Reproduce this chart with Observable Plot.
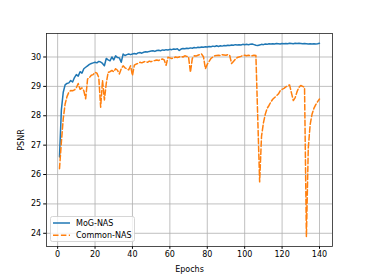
<!DOCTYPE html>
<html>
<head>
<meta charset="utf-8">
<script src="https://cdn.jsdelivr.net/npm/d3@7"></script>
<script src="https://cdn.jsdelivr.net/npm/@observablehq/plot@0.6"></script>
<style>
  html, body { margin: 0; padding: 0; background: #fff; }
  #chart { width: 369px; height: 277px; }
</style>
</head>
<body>
<div id="chart"></div>
<script>
const seriesNames = ["MoG-NAS", "Common-NAS"];
const seriesColors = ["#1f77b4", "#ff7f0e"];
const xTicks = [0, 20, 40, 60, 80, 100, 120, 140];
const yTicks = [24, 25, 26, 27, 28, 29, 30];

const mogNas = [
  26.6, 28.2, 28.8, 29.05, 29.1, 29.12, 29.2, 29.15, 29.3, 29.4,
  29.35, 29.5, 29.45, 29.6, 29.65, 29.7, 29.75, 29.78, 29.8, 29.82,
  29.8, 29.85, 29.83, 29.78, 29.7, 29.95, 29.9, 29.87, 30.0, 29.9,
  30.04, 29.98, 29.97, 29.82, 30.1, 30.05, 30.08, 30.1, 30.08, 30.1,
  30.12, 30.1, 30.14, 30.15, 30.13, 30.16, 30.18, 30.17, 30.19, 30.2,
  30.21, 30.19, 30.22, 30.23, 30.21, 30.24, 30.23, 30.25, 30.24, 30.26,
  30.25, 30.27, 30.26, 30.28, 30.22, 30.27, 30.29, 30.28, 30.3, 30.29,
  30.31, 30.3, 30.32, 30.31, 30.33, 30.32, 30.34, 30.33, 30.35, 30.34,
  30.36, 30.35, 30.37, 30.36, 30.38, 30.36, 30.38, 30.37, 30.39, 30.38,
  30.4, 30.39, 30.41, 30.4, 30.42, 30.41, 30.42, 30.41, 30.43, 30.42,
  30.43, 30.42, 30.43, 30.44, 30.42, 30.4, 30.39, 30.41, 30.43, 30.42,
  30.44, 30.43, 30.45, 30.44, 30.45, 30.44, 30.46, 30.45, 30.44, 30.46,
  30.45, 30.46, 30.45, 30.47, 30.46, 30.45, 30.47, 30.46, 30.47, 30.46,
  30.45, 30.46, 30.45, 30.44, 30.45, 30.44, 30.45, 30.44, 30.45, 30.47
];

const commonNas = [
  26.2, 27.1, 27.9, 28.4, 28.65, 28.8, 28.86, 28.85, 28.88, 28.95,
  29.1, 28.9, 28.95, 28.85, 28.58, 29.25, 29.3, 29.38, 29.4, 29.48,
  29.45, 29.3, 28.29, 29.2, 28.54, 29.1, 29.48, 29.5, 29.54, 29.5,
  29.6, 29.55, 29.42, 29.6, 29.7, 29.63, 29.6, 29.56, 29.7, 29.37,
  29.72, 29.76, 29.78, 29.82, 29.8, 29.83, 29.85, 29.82, 29.86, 29.84,
  29.87, 29.88, 29.9, 29.88, 29.92, 29.93, 29.9, 29.72, 29.99, 29.97,
  29.95, 29.96, 30.0, 29.98, 30.0, 30.02, 30.0, 30.04, 30.02, 30.0,
  29.48, 29.95, 30.04, 30.03, 30.06, 30.08, 30.1, 30.0, 29.6, 29.75,
  29.85, 29.95, 30.0, 30.04, 30.05, 30.06, 30.05, 30.08, 30.07, 30.06,
  30.08, 30.05, 29.78, 29.85, 29.92, 29.98, 30.0, 30.02, 30.05, 30.06,
  30.04, 30.06, 30.05, 30.04, 30.06, 30.05, 27.9, 25.75, 27.3, 27.75,
  28.05, 28.25, 28.35, 28.47, 28.56, 28.62, 28.68, 28.74, 28.85, 28.9,
  28.93, 28.98, 29.02, 29.05, 28.78, 28.52, 28.62, 28.82, 28.97, 29.03,
  29.0, 28.97, 23.88, 26.9, 27.7, 28.05, 28.25, 28.38, 28.48, 28.57
];

const epochs = mogNas.map((_, i) => i + 1);

const rows = [];
epochs.forEach((e, i) => {
  rows.push({epoch: e, psnr: mogNas[i], series: seriesNames[0]});
  rows.push({epoch: e, psnr: commonNas[i], series: seriesNames[1]});
});

function padded(ext) {
  const p = (ext[1] - ext[0]) * 0.05;
  return [ext[0] - p, ext[1] + p];
}
const xDomain = padded(d3.extent(epochs));
const yDomain = padded(d3.extent([...mogNas, ...commonNas]));

const font = "DejaVu Sans, sans-serif";
const dash = "5.5,2.4";

const plot = Plot.plot({
  width: 369,
  height: 277,
  marginLeft: 46,
  marginRight: 37,
  marginTop: 33,
  marginBottom: 31,
  style: {fontFamily: font, fontSize: "8px", background: "#fff", color: "#000"},
  x: {domain: xDomain},
  y: {domain: yDomain},
  marks: [
    Plot.gridX(xTicks, {stroke: "#b0b0b0", strokeOpacity: 1, strokeWidth: 0.8}),
    Plot.gridY(yTicks, {stroke: "#b0b0b0", strokeOpacity: 1, strokeWidth: 0.8}),
    Plot.axisX(xTicks, {tickSize: 2.8, tickPadding: 2.5, fontSize: 8, label: "Epochs", labelAnchor: "center", labelArrow: "none", labelOffset: 25}),
    Plot.axisY(yTicks, {tickSize: 2.8, tickPadding: 2.5, fontSize: 8, label: "PSNR", labelAnchor: "center", labelArrow: "none", labelOffset: 28}),
    Plot.line(rows.filter(d => d.series === seriesNames[0]), {x: "epoch", y: "psnr", stroke: seriesColors[0], strokeWidth: 1.5}),
    Plot.line(rows.filter(d => d.series === seriesNames[1]), {x: "epoch", y: "psnr", stroke: seriesColors[1], strokeWidth: 1.5, strokeDasharray: dash}),
    Plot.frame({stroke: "#222", strokeWidth: 0.8})
  ]
});

document.getElementById("chart").appendChild(plot);

// Legend (lower-left inside the plot area)
const svg = d3.select(plot);
const g = svg.append("g").attr("font-family", font).attr("font-size", 8).attr("text-anchor", "start");
g.append("rect").attr("x", 50.5).attr("y", 216.5).attr("width", 84).attr("height", 25)
  .attr("rx", 2).attr("fill", "#fff").attr("fill-opacity", 0.8).attr("stroke", "#cccccc").attr("stroke-width", 0.8);
seriesNames.forEach((name, i) => {
  const cy = 223 + i * 12.3;
  g.append("line").attr("x1", 53).attr("x2", 70).attr("y1", cy).attr("y2", cy)
    .attr("stroke", seriesColors[i]).attr("stroke-width", 1.5)
    .attr("stroke-dasharray", i === 1 ? dash : null);
  g.append("text").attr("x", 76).attr("y", cy).attr("dy", "0.35em").attr("fill", "#000")
    .attr("text-anchor", "start").text(name);
});
</script>
</body>
</html>
